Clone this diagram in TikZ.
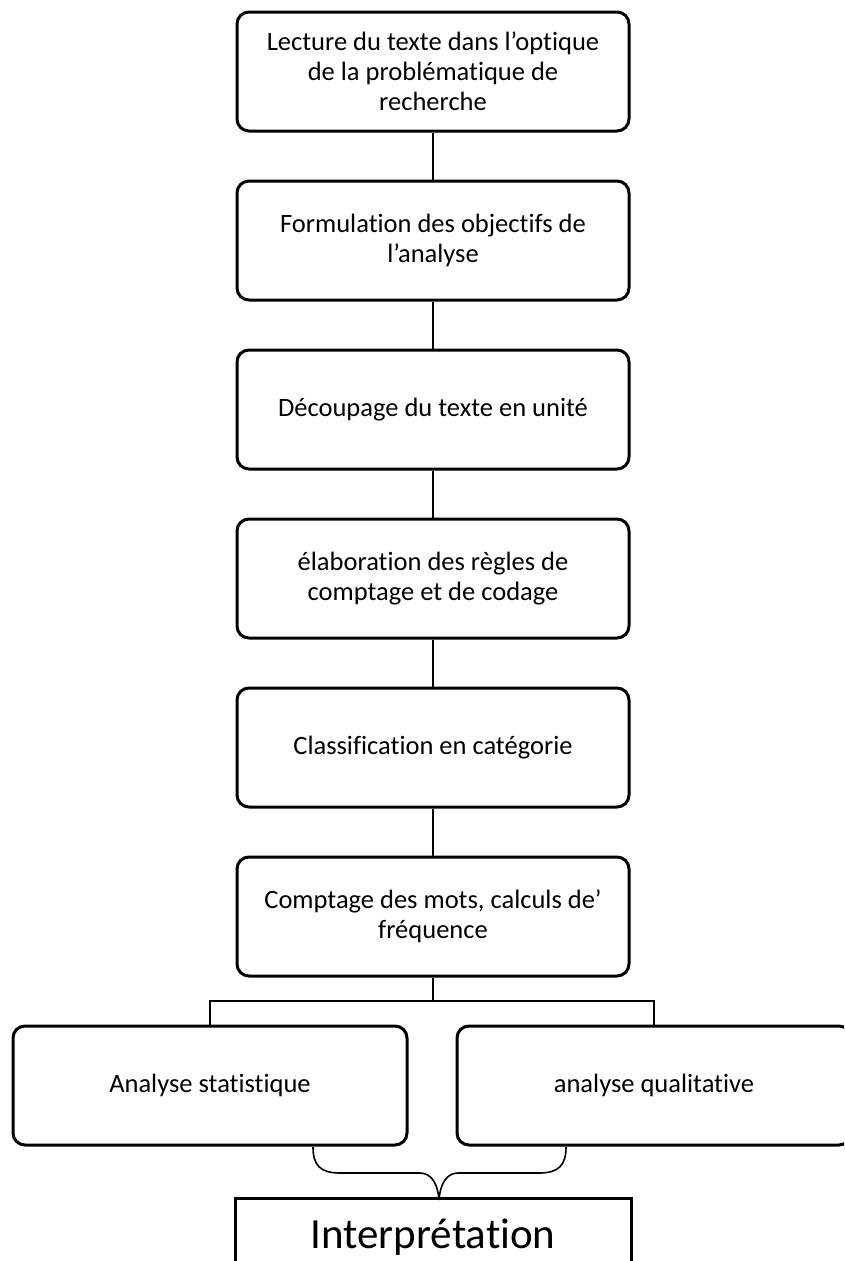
\documentclass[tikz,border=0pt]{standalone}
\usepackage{fontspec}
\setmainfont{Carlito}[Ligatures={NoCommon}]
\begin{document}
\begin{tikzpicture}[x=1pt,y=-1pt,
  stepbox/.style={draw,line width=3pt,rounded corners=12pt,minimum width=392pt,minimum height=119pt,align=center,font=\fontsize{26.5}{30}\selectfont,inner sep=0pt},
  sidebox/.style={draw,line width=3pt,rounded corners=12pt,minimum width=394pt,minimum height=119pt,align=center,font=\fontsize{26.5}{30}\selectfont,inner sep=0pt},
  link/.style={line width=1.6pt},
  bracepath/.style={line width=1.6pt}]
\clip (0,0) rectangle (844,1261);
\useasboundingbox (0,0) rectangle (844,1261);
\node[stepbox] (b1) at (433,71.5) {Lecture du texte dans l’optique\\de la problématique de\\recherche};
\node[stepbox] (b2) at (433,240.5) {Formulation des objectifs de\\l’analyse};
\node[stepbox] (b3) at (433,409.5) {Découpage du texte en unité};
\node[stepbox] (b4) at (433,578.5) {élaboration des règles de\\comptage et de codage};
\node[stepbox] (b5) at (433,747.5) {Classification en catégorie};
\node[stepbox] (b6) at (433,916.5) {Comptage des mots, calculs de’\\fréquence};
\node[sidebox] (l) at (210,1085.5) {Analyse statistique};
\node[sidebox] (r) at (654,1085.5) {analyse qualitative};
\node[draw,line width=3pt,minimum width=396pt,minimum height=90pt,anchor=north,inner sep=0pt] (interp) at (433,1197) {};
\node[font=\fontsize{43}{46}\selectfont,anchor=base] (itext) at (433,1248) {Interprétation};
\draw[link] (b1.south) -- (b2.north);
\draw[link] (b2.south) -- (b3.north);
\draw[link] (b3.south) -- (b4.north);
\draw[link] (b4.south) -- (b5.north);
\draw[link] (b5.south) -- (b6.north);
\coordinate (j) at (433,1001);
\draw[link] (b6.south) -- (j);
\draw[link] (l.north) -- (l.north |- j) -- (r.north |- j) -- (r.north);
\coordinate (tip) at (439,1200);
\draw[bracepath] (313,1147) .. controls (313,1165) and (320,1173) .. (340,1173) -- (420,1173) .. controls (432,1173) and (438,1185) .. (tip);
\draw[bracepath] (566,1147) .. controls (566,1165) and (559,1173) .. (539,1173) -- (458,1173) .. controls (446,1173) and (440,1185) .. (tip);
\end{tikzpicture}
\end{document}
